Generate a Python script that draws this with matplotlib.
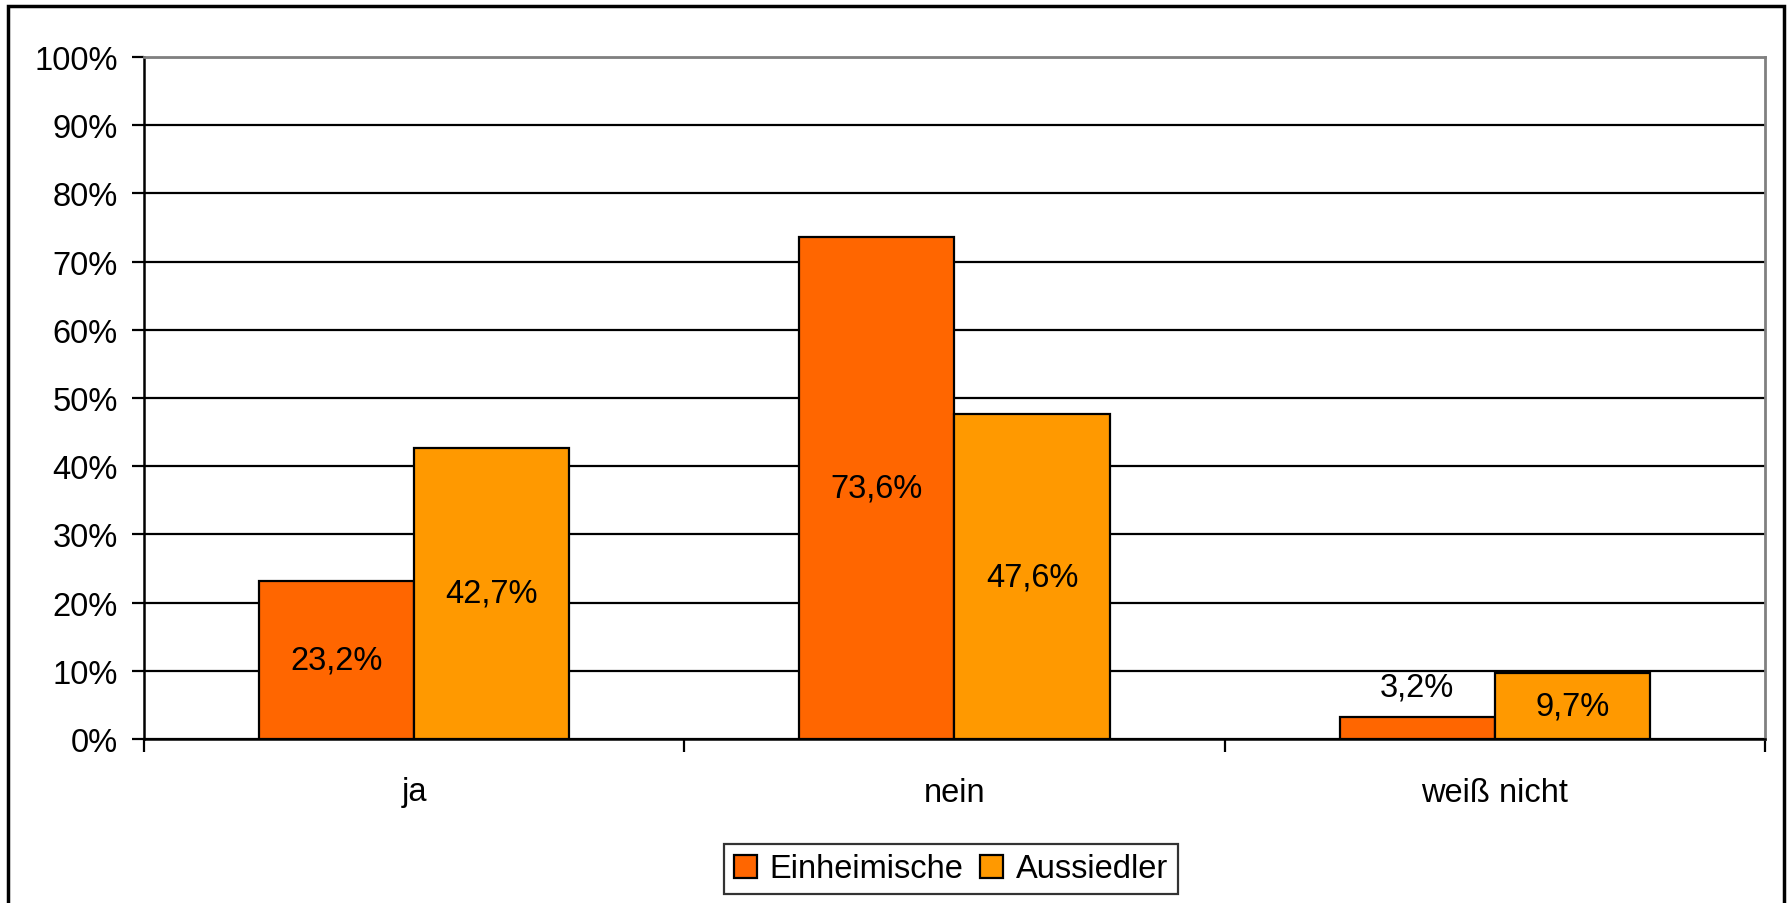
"""Grouped bar chart: ja / nein / weiß nicht, Einheimische vs. Aussiedler."""

import matplotlib

matplotlib.use("Agg")
import matplotlib.pyplot as plt
from matplotlib.patches import Rectangle

plt.rcParams["font.family"] = ["Liberation Sans", "DejaVu Sans"]

categories = ["ja", "nein", "weiß nicht"]
einheimische = [23.2, 73.6, 3.2]
aussiedler = [42.7, 47.6, 9.7]
series_names = ["Einheimische", "Aussiedler"]

RED_ORANGE = "#FF6600"
ORANGE = "#FF9900"
GRAY = "#808080"
FS = 23.5

W, H, DPI = 1787, 904, 100


def pct(v):
    return f"{v:.1f}".replace(".", ",") + "%"


def run():
    fig = plt.figure(figsize=(W / DPI, H / DPI), dpi=DPI)
    ax = fig.add_axes([144 / W, 1 - 740 / H, (1765 - 144) / W, (740 - 58) / H])

    # outer chart frame (bottom edge runs off the canvas)
    fig.add_artist(Rectangle((8 / W, -0.05), (1784 - 8) / W, 1.05 - 7 / H,
                             transform=fig.transFigure, fill=False,
                             edgecolor="black", linewidth=2.5, clip_on=False))

    x = list(range(len(categories)))
    bw = 0.287
    b1 = ax.bar([i - bw / 2 for i in x], einheimische, bw, color=RED_ORANGE,
                edgecolor="black", linewidth=1.6, label=series_names[0], zorder=3)
    b2 = ax.bar([i + bw / 2 for i in x], aussiedler, bw, color=ORANGE,
                edgecolor="black", linewidth=1.6, label=series_names[1], zorder=3)

    for bars, vals in ((b1, einheimische), (b2, aussiedler)):
        for bar, v in zip(bars, vals):
            cx = bar.get_x() + bar.get_width() / 2
            if v < 5:
                ax.annotate(pct(v), (cx, v), xytext=(0, 22), textcoords="offset points",
                            ha="center", va="center", fontsize=FS, zorder=4)
            else:
                ax.text(cx, v / 2, pct(v), ha="center", va="center", fontsize=FS, zorder=4)

    ax.set_xlim(-0.5, 2.5)
    ax.set_ylim(0, 100)
    ax.set_yticks(range(0, 101, 10))
    ax.set_yticklabels([f"{t}%" for t in range(0, 101, 10)], fontsize=FS)

    ax.set_xticks(x)
    ax.set_xticklabels(categories, fontsize=FS)
    ax.set_xticks([-0.5, 0.5, 1.5, 2.5], minor=True)
    ax.tick_params(axis="x", which="major", length=0, pad=27)
    ax.tick_params(axis="x", which="minor", length=9, width=1.6, direction="out")
    ax.tick_params(axis="y", length=9, width=1.6, direction="out", pad=10)

    ax.yaxis.grid(True, color="black", linewidth=1.6)
    ax.set_axisbelow(True)

    for side in ("left", "bottom"):
        ax.spines[side].set_color("black")
        ax.spines[side].set_linewidth(1.8)
    for side in ("top", "right"):
        ax.spines[side].set_color(GRAY)
        ax.spines[side].set_linewidth(2)

    leg = fig.legend(handles=[b1, b2], loc="center", bbox_to_anchor=(951 / W, 1 - 870 / H),
                     ncol=2, fontsize=FS, frameon=True, fancybox=False,
                     handlelength=0.7, handleheight=0.7, handletextpad=0.4,
                     columnspacing=0.5, borderpad=0.3, borderaxespad=0)
    leg.get_frame().set_edgecolor("black")
    leg.get_frame().set_linewidth(1.6)

    fig.savefig("out.png", dpi=DPI, facecolor="white")


if __name__ == "__main__":
    run()
